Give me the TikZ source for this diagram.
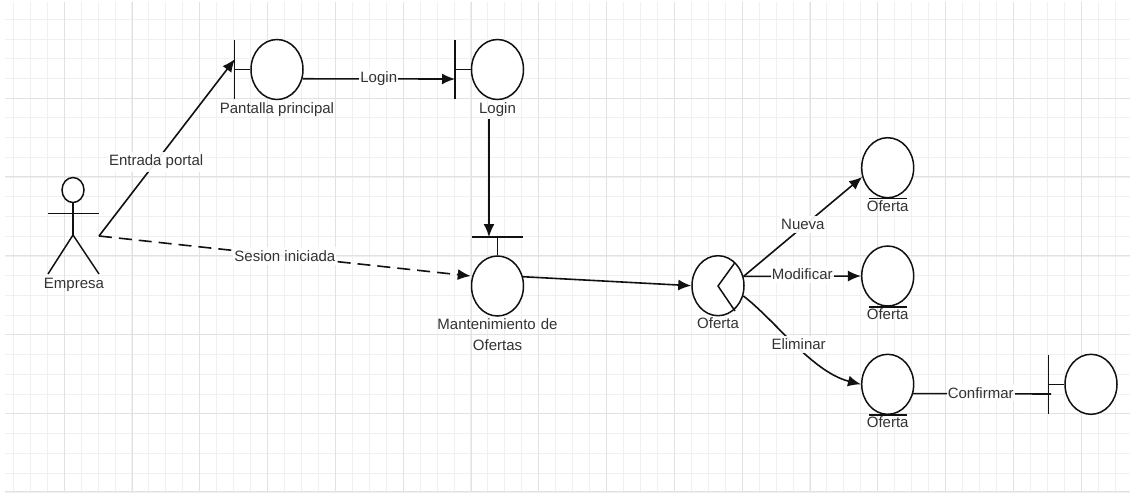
\documentclass[tikz,border=0pt]{standalone}
\usepackage{fontspec}
\setmainfont{Liberation Sans}
\usetikzlibrary{shapes.geometric,arrows.meta}
\definecolor{gridminor}{HTML}{F0F0F0}
\definecolor{gridmajor}{HTML}{E2E2E2}
\definecolor{inkc}{HTML}{111111}
\definecolor{labelc}{HTML}{333333}
\tikzset{
  ball/.style={draw=inkc,ellipse,line width=1.5pt,minimum width=52pt,minimum height=60pt,inner sep=0pt,fill=white},
  head/.style={draw=inkc,ellipse,line width=1.5pt,minimum width=22pt,minimum height=25pt,inner sep=0pt,fill=white},
  part/.style={draw=inkc,line width=1.5pt},
  txt/.style={font=\fontsize{15}{15}\selectfont,text=labelc,inner sep=0pt,align=center},
  lbl/.style={txt,fill=white,fill opacity=.92,text opacity=1,inner xsep=1pt,inner ysep=3pt},
  conn/.style={draw=inkc,line width=1.6pt,-{Latex[length=13pt,width=11pt]}},
  plain/.style={draw=inkc,line width=1.6pt},
}
\begin{document}
\begin{tikzpicture}[x=1pt,y=-1pt]
\useasboundingbox (0,0) rectangle (1130,493);
\fill[white] (0,0) rectangle (1130,493);
% grid
\foreach \k in {0,...,65}{
  \pgfmathsetmacro\gx{13.3+16.95*\k}
  \draw[gridminor,line width=1pt] (\gx,2) -- (\gx,491);
}
\foreach \k in {0,...,24}{
  \pgfmathsetmacro\gy{19.3+19.73*\k}
  \draw[gridminor,line width=1pt] (5,\gy) -- (1130,\gy);
}
\foreach \k in {0,...,15}{
  \pgfmathsetmacro\gx{64.2+67.8*\k}
  \draw[gridmajor,line width=1pt] (\gx,2) -- (\gx,491);
}
\foreach \k in {0,...,4}{
  \pgfmathsetmacro\gy{98+78.9*\k}
  \draw[gridmajor,line width=1pt] (5,\gy) -- (1130,\gy);
}
\draw[gridmajor,line width=1pt] (5,491.5) -- (1130,491.5);
% actor
\node[head] (acthead) at (73,190) {};
\coordinate (hip) at (73,235);
\coordinate (armL) at (48,213.5);
\coordinate (armR) at (99,213.5);
\coordinate (legL) at (48,274);
\coordinate (legR) at (99,274);
\coordinate (actout) at (99,236);
\draw[part] (acthead.south) -- (hip);
\draw[part] (armL) -- (armR);
\draw[part] (legL) -- (hip) -- (legR);
\node[txt] (empresa) at (74,284.5) {Empresa};
% boundary objects
\node[ball] (pant) at (277,69.5) {};
\coordinate (pantT) at (234.5,40);
\coordinate (pantB) at (234.5,98.5);
\coordinate (pantM) at (234.5,69.5);
\draw[part] (pantT) -- (pantB);
\draw[part,line width=1.2pt] (pantM) -- (pant.west);
\node[txt] (pantl) at (277,109.5) {Pantalla principal};
\node[ball] (login) at (497.5,69.5) {};
\coordinate (loginT) at (455,40);
\coordinate (loginB) at (455,98.5);
\coordinate (loginM) at (455,69.5);
\coordinate (loginIn) at (455,79);
\draw[part] (loginT) -- (loginB);
\draw[part,line width=1.2pt] (loginM) -- (login.west);
\node[txt] (loginl) at (497.5,109.5) {Login};
% control with bar on top
\node[ball] (mant) at (497.5,286) {};
\coordinate (mantL) at (472,237);
\coordinate (mantR) at (523,237);
\coordinate (mantM) at (497.5,237);
\coordinate (mantIn) at (489,237);
\draw[part] (mantL) -- (mantR);
\draw[part,line width=1.2pt] (mantM) -- (mant.north);
\node[txt,text width=140pt] (mantl) at (497.5,335) {Mantenimiento de\\[6pt]Ofertas};
% oferta control
\node[ball] (ctrl) at (718,285.7) {};
\coordinate (chevT) at (735,262.5);
\coordinate (chevM) at (718,286);
\coordinate (chevB) at (735,311);
\draw[part] (chevT) -- (chevM) -- (chevB);
\node[txt] (ctrll) at (718,323) {Oferta};
% entities
\foreach \n/\y in {ent1/167.7,ent2/276,ent3/384.3}{
  \node[ball] (\n) at (887.7,\y) {};
  \draw[part] (\n.south west|-\n.south) -- (\n.south east|-\n.south);
  \node[txt] (\n l) at (887.7,\y+38) {Oferta};
}
% last boundary
\node[ball] (conf) at (1091,384.3) {};
\coordinate (confT) at (1048.7,355);
\coordinate (confB) at (1048.7,414);
\coordinate (confM) at (1048.7,384.3);
\coordinate (confIn) at (1051,394);
\draw[part] (confT) -- (confB);
\draw[part,line width=1.2pt] (confM) -- (conf.west);
% connectors
\coordinate (pantIn) at (235,59);
\draw[conn] (actout) -- node[lbl,pos=.42] (l1) {Entrada portal} (pantIn);
\draw[conn,dash pattern=on 13pt off 7pt] (actout) -- node[lbl,pos=.5] (l2) {Sesion iniciada} (mant.west |- 0,276);
\draw[conn] (pant.-20) -- node[lbl,pos=.5] (l3) {Login} (loginIn);
\coordinate (loginOut) at (489,119);
\draw[conn] (loginOut) -- (mantIn);
\draw[conn] (mant.20) -- (ctrl.west);
\draw[conn] (ctrl.20) -- node[lbl,pos=.5,yshift=2pt] (l4) {Nueva} (ent1.200);
\draw[conn] (ctrl.20) -- node[lbl,pos=.5,yshift=2pt] (l5) {Modificar} (ent2.west);
\draw[conn] (ctrl.-22) .. controls (775,320) and (812,372) .. node[lbl,pos=.5,xshift=3pt] (l6) {Eliminar} (ent3.west);
\draw[plain] (ent3.-20) -- node[lbl,pos=.49,yshift=1pt] (l7) {Confirmar} (confIn);
\end{tikzpicture}
\end{document}
